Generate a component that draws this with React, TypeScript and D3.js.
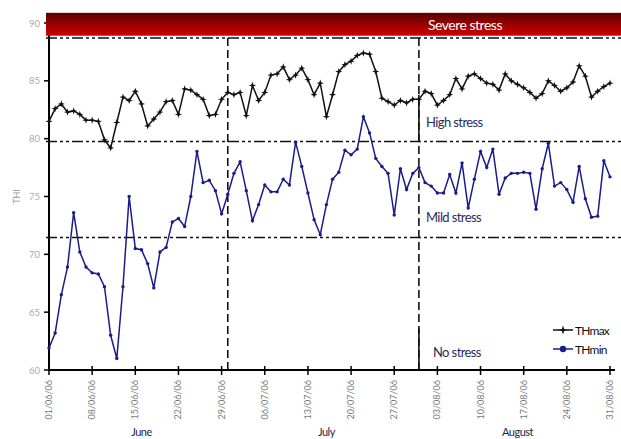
import React from 'react';
import * as d3 from 'd3';

const START = '01/06/06';
const thMax = [81.5, 82.6, 83.0, 82.3, 82.4, 82.1, 81.6, 81.6, 81.5, 79.9,
  79.2, 81.4, 83.6, 83.3, 84.1, 83.0, 81.1, 81.7, 82.3, 83.2,
  83.3, 82.1, 84.3, 84.2, 83.8, 83.4, 82.0, 82.1, 83.4, 84.0,
  83.8, 84.0, 82.0, 84.6, 83.3, 84.0, 85.5, 85.6, 86.2, 85.1,
  85.5, 86.1, 85.1, 83.8, 84.8, 81.9, 83.8, 85.8, 86.4, 86.7,
  87.2, 87.4, 87.3, 85.8, 83.5, 83.2, 82.9, 83.3, 83.1, 83.4,
  83.4, 84.1, 83.9, 82.9, 83.3, 83.8, 85.2, 84.3, 85.4, 85.6,
  85.2, 84.8, 84.7, 84.2, 85.6, 85.0, 84.7, 84.4, 84.0, 83.5,
  83.9, 85.0, 84.6, 84.1, 84.4, 84.9, 86.3, 85.4, 83.6, 84.1,
  84.5, 84.8];
const thMin = [61.9, 63.2, 66.5, 68.9, 73.6, 70.2, 68.9, 68.4, 68.3, 67.2,
  63.0, 61.0, 67.2, 75.0, 70.5, 70.4, 69.2, 67.1, 70.2, 70.6,
  72.8, 73.1, 72.4, 75.0, 78.9, 76.2, 76.4, 75.5, 73.5, 75.2,
  77.0, 78.0, 75.5, 72.9, 74.3, 76.0, 75.4, 75.4, 76.5, 76.0,
  79.7, 77.6, 75.3, 73.0, 71.7, 74.3, 76.5, 77.1, 79.0, 78.6,
  79.1, 81.9, 80.5, 78.3, 77.6, 77.0, 73.4, 77.4, 75.6, 77.0,
  77.5, 76.2, 75.9, 75.3, 75.3, 76.9, 75.3, 77.9, 74.0, 76.5,
  78.9, 77.5, 79.1, 75.2, 76.6, 77.0, 77.0, 77.1, 77.0, 73.9,
  77.4, 79.6, 75.9, 76.2, 75.6, 74.5, 77.6, 74.8, 73.2, 73.3,
  78.1, 76.7];
const tickLabels = ['01/06/06', '08/06/06', '15/06/06', '22/06/06', '29/06/06', '06/07/06', '13/07/06',
  '20/07/06', '27/07/06', '03/08/06', '10/08/06', '17/08/06', '24/08/06', '31/08/06'];
const yTicks = [60, 65, 70, 75, 80, 85, 90];
const months = ['June', 'July', 'August'];
const monthMid = ['16/06/06', '16/07/06', '16/08/06'];
const monthEnds = ['30/06/06', '31/07/06'];
const thresholds = [71.45, 79.75, 88.7];
const zoneLabels = ['No stress', 'Mild stress', 'High stress'];
const zoneLabelValues = [61.1, 72.8, 81.0];
const seriesNames = ['THmax', 'THmin'];

const parse = d3.timeParse('%d/%m/%y');
const fmt = d3.timeFormat('%d/%m/%y');

const NAVY = '#1b1b8a';

function star4(r: number) {
  const ri = r * 0.35;
  const pts: string[] = [];
  for (let i = 0; i < 8; i++) {
    const a = (Math.PI / 4) * i - Math.PI / 2;
    const rr = i % 2 === 0 ? r : ri;
    pts.push(`${(Math.cos(a) * rr).toFixed(2)},${(Math.sin(a) * rr).toFixed(2)}`);
  }
  return 'M' + pts.join('L') + 'Z';
}

export default function App() {
  const W = 621, H = 439;
  const start = parse(START)!;
  const dates = thMax.map((_, i) => d3.timeDay.offset(start, i));
  const x = d3.scaleTime().domain([start, parse('31/08/06')!]).range([49, 610]);
  const y = d3.scaleLinear().domain([60, 90]).range([370, 23]);
  const line = d3.line<number>().x((_, i) => x(dates[i])).y(v => y(v));
  const font = 'Lato, "Open Sans", sans-serif';
  const bannerTop = y(90.88), bannerBot = y(88.9);
  const starPath = star4(3.6);
  const vLineX = x(parse(monthEnds[1])!);

  return (
    <svg width={W} height={H} style={{ position: 'absolute', left: 0, top: 0, background: '#fff' }}
      fontFamily={font}>
      <defs>
        <linearGradient id="sev" x1="0" y1="0" x2="0" y2="1">
          <stop offset="0" stopColor="#560000" />
          <stop offset="0.55" stopColor="#a00000" />
          <stop offset="1" stopColor="#d00000" />
        </linearGradient>
      </defs>
      {/* y axis */}
      <line x1={49} x2={49} y1={y(90)} y2={y(60)} stroke="#000" strokeWidth={2} />
      {yTicks.map(t => (
        <g key={t}>
          <line x1={44} x2={49} y1={y(t)} y2={y(t)} stroke="#000" strokeWidth={1.5} />
          <text x={40} y={y(t) + 3.5} textAnchor="end" fontSize={9.5} fill="#aaa">{t}</text>
        </g>
      ))}
      <text transform={`translate(20,${y(75)}) rotate(-90)`} textAnchor="middle" fontSize={9} fill="#999">THI</text>
      {/* banner */}
      <rect x={46} y={bannerTop} width={W - 46} height={bannerBot - bannerTop} fill="url(#sev)" />
      <text x={465} y={bannerTop + 17} textAnchor="middle" fontSize={14} fill="#fff" letterSpacing={-0.5}>Severe stress</text>
      {/* thresholds */}
      {thresholds.map(t => (
        <line key={t} x1={46} x2={W} y1={y(t)} y2={y(t)} stroke="#111" strokeWidth={1.6}
          strokeDasharray="11,3,3,3,3,3" />
      ))}
      {/* month separators */}
      <line x1={x(parse(monthEnds[0])!)} x2={x(parse(monthEnds[0])!)} y1={y(88.7)} y2={y(60)}
        stroke="#111" strokeWidth={1.6} strokeDasharray="8,4" />
      <line x1={vLineX} x2={vLineX} y1={y(88.7)} y2={y(60)} stroke="#111" strokeWidth={1.6} strokeDasharray="8,4" />
      <line x1={vLineX} x2={vLineX} y1={y(83.8)} y2={y(79.75)} stroke="#111" strokeWidth={1.6} />
      <line x1={vLineX} x2={vLineX} y1={y(63.6)} y2={y(60)} stroke="#111" strokeWidth={1.6} />
      {/* zone labels */}
      {zoneLabels.map((l, i) => (
        <text key={l} x={i === 0 ? 433 : 426} y={y(zoneLabelValues[i])} fontSize={13} fill="#2b2b5e"
          letterSpacing={-0.6}>{l}</text>
      ))}
      {/* series */}
      <path d={line(thMin) || ''} fill="none" stroke={NAVY} strokeWidth={1.5} />
      {thMin.map((v, i) => (
        <circle key={'n' + i} cx={x(dates[i])} cy={y(v)} r={1.7} fill={NAVY} />
      ))}
      <path d={line(thMax) || ''} fill="none" stroke="#111" strokeWidth={1.5} />
      {thMax.map((v, i) => (
        <path key={'m' + i} d={starPath} transform={`translate(${x(dates[i])},${y(v)})`} fill="#111" />
      ))}
      {/* x axis */}
      <line x1={49} x2={615} y1={370} y2={370} stroke="#000" strokeWidth={2} />
      {tickLabels.map(t => {
        const xx = x(parse(t)!);
        return (
          <g key={t}>
            <line x1={xx} x2={xx} y1={366} y2={375} stroke="#000" strokeWidth={1.5} />
            <text transform={`translate(${xx + 3},380) rotate(-90)`} textAnchor="end" fontSize={9} fill="#777">{fmt(parse(t)!)}</text>
          </g>
        );
      })}
      {months.map((m, i) => (
        <text key={m} x={x(parse(monthMid[i])!)} y={436} textAnchor="middle" fontSize={11} fill="#1e1e50"
          letterSpacing={-0.5}>{m}</text>
      ))}
      {/* legend */}
      {seriesNames.map((s, i) => {
        const ly = 330 + i * 19;
        return (
          <g key={s}>
            <line x1={553} x2={573} y1={ly} y2={ly} stroke={i === 0 ? '#111' : NAVY} strokeWidth={1.5} />
            {i === 0
              ? <path d={star4(4.5)} transform={`translate(563,${ly})`} fill="#111" />
              : <circle cx={563} cy={ly} r={3.2} fill={NAVY} />}
            <text x={575} y={ly + 4.5} fontSize={12} fill="#111" letterSpacing={-0.8}>{s}</text>
          </g>
        );
      })}
    </svg>
  );
}
